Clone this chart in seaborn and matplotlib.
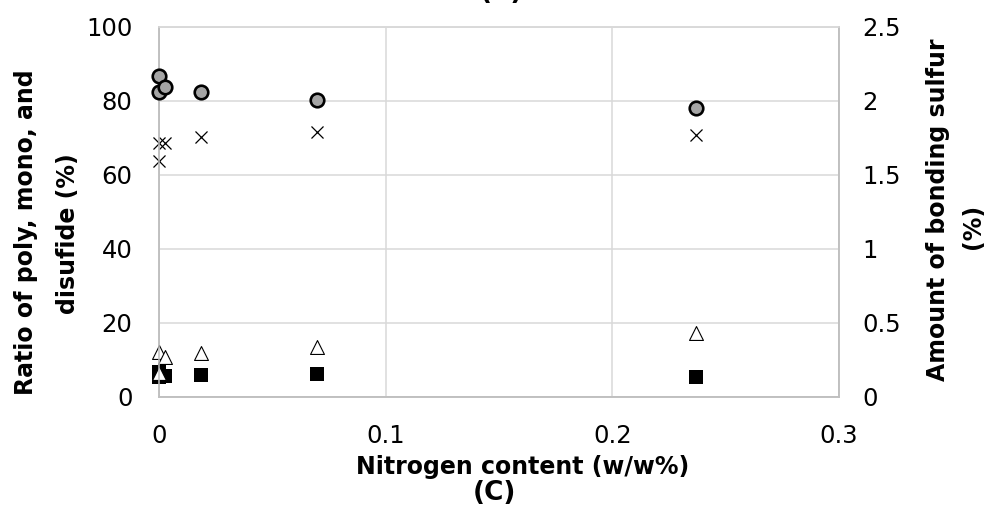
import matplotlib
matplotlib.use("Agg")
import matplotlib.pyplot as plt
import seaborn as sns
import pandas as pd

# ---- data ----
nitrogen = [0.0, 0.0, 0.0028, 0.0185, 0.0697, 0.2370]
poly_ratio = [68.6, 63.7, 68.5, 70.1, 71.6, 70.7]      # x markers (left axis)
mono_ratio = [12.2, 6.3, 10.6, 11.7, 13.5, 17.1]       # triangles (left axis)
di_ratio = [6.8, 5.4, 5.6, 5.9, 6.1, 5.2]              # squares (left axis)
bonding_sulfur = [2.17, 2.06, 2.095, 2.06, 2.005, 1.95]  # circles (right axis)

x_ticks = [0, 0.1, 0.2, 0.3]
x_tick_labels = ["0", "0.1", "0.2", "0.3"]
y_ticks = [0, 20, 40, 60, 80, 100]
y2_ticks = [0, 0.5, 1, 1.5, 2, 2.5]
y2_tick_labels = ["0", "0.5", "1", "1.5", "2", "2.5"]

df = pd.DataFrame({"N": nitrogen, "poly": poly_ratio, "mono": mono_ratio,
                   "di": di_ratio, "S": bonding_sulfur})

sns.set_style("white")
plt.rcParams["font.family"] = ["DejaVu Sans"]

W, H = 992, 511
fig = plt.figure(figsize=(W / 100, H / 100), dpi=100)
x0, x1, ytop, ybot = 159, 839, 26.7, 396.7
ax = fig.add_axes([x0 / W, 1 - ybot / H, (x1 - x0) / W, (ybot - ytop) / H])
ax2 = ax.twinx()

grid_c = "#d9d9d9"
axis_c = "#bfbfbf"

ax.set_xlim(0, 0.3)
ax.set_ylim(0, 100)
ax2.set_ylim(0, 2.5)
ax.set_xticks(x_ticks)
ax.set_xticklabels(x_tick_labels)
ax.set_yticks(y_ticks)
ax2.set_yticks(y2_ticks)
ax2.set_yticklabels(y2_tick_labels)

ax.grid(True, color=grid_c, linewidth=1.1)
ax.set_axisbelow(True)
ax2.grid(False)

for a in (ax, ax2):
    for s in a.spines.values():
        s.set_linewidth(1.1)
    a.spines["top"].set_color(grid_c)
    a.spines["left"].set_color(axis_c)
    a.spines["bottom"].set_color(axis_c)
    a.spines["right"].set_color(axis_c)

ax.tick_params(axis="y", length=0, pad=19, labelsize=17.5, labelcolor="black")
ax.tick_params(axis="x", length=0, pad=20, labelsize=17.5, labelcolor="black")
ax2.tick_params(axis="y", length=0, pad=17, labelsize=17.5, labelcolor="black")

sns.scatterplot(data=df, x="N", y="poly", marker="x", s=75, color="black",
                linewidth=0.9, ax=ax, zorder=3, legend=False)
sns.scatterplot(data=df, x="N", y="di", marker="s", s=90, color="black",
                edgecolor="black", linewidth=0, ax=ax, zorder=3, legend=False)
sns.scatterplot(data=df, x="N", y="mono", marker="^", s=100, facecolor="white",
                edgecolor="black", linewidth=0.8, ax=ax, zorder=4, legend=False)
sns.scatterplot(data=df, x="N", y="S", marker="o", s=95, color="#a5a5a5",
                edgecolor="black", linewidth=1.9, ax=ax2, zorder=5, legend=False)

for a in (ax, ax2):
    a.set_xlabel("")
    a.set_ylabel("")
for coll in ax.collections + ax2.collections:
    coll.set_clip_on(False)

bold = dict(fontsize=17, fontweight="bold", color="black")
# left y label (two lines)
fig.text(26 / W, 1 - 232.5 / H, "Ratio of poly, mono, and", rotation=90,
         ha="center", va="center", **bold)
fig.text(68.5 / W, 1 - 233.5 / H, "disufide (%)", rotation=90,
         ha="center", va="center", **bold)
# right y label (two lines)
fig.text(937.5 / W, 1 - 210 / H, "Amount of bonding sulfur", rotation=90,
         ha="center", va="center", **bold)
fig.text(973 / W, 1 - 226 / H, "(%)", rotation=90,
         ha="center", va="center", **bold)
# x label
fig.text(523 / W, 1 - 474 / H, "Nitrogen content (w/w%)", ha="center",
         va="baseline", **bold)
# panel labels (upper one is cut by the top edge, as in the reference)
fig.text(494 / W, 1 - 500 / H, "(C)", ha="center", va="baseline",
         fontsize=19, fontweight="bold", color="black")
fig.text(501 / W, 1 + 1.5 / H, "(C)", ha="center", va="baseline",
         fontsize=19, fontweight="bold", color="black")

fig.savefig("out.png", dpi=100)
